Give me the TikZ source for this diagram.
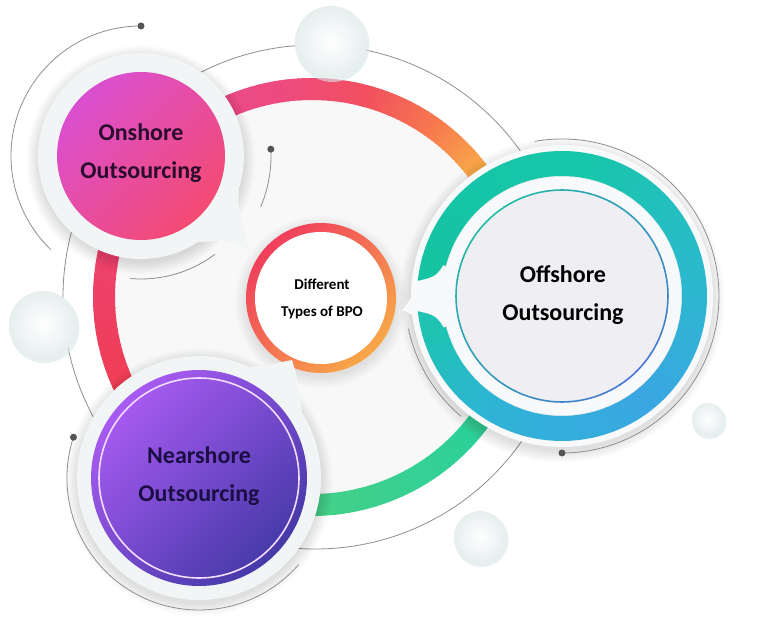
\documentclass[tikz,border=0pt]{standalone}
\usepackage{fontspec}
\setmainfont{Carlito}
\usetikzlibrary{calc}
\definecolor{grayline}{HTML}{8E8E8E}
\definecolor{dotc}{HTML}{555555}
\definecolor{innerfill}{HTML}{F8F8F8}
\definecolor{halo}{HTML}{F2F5F5}
\definecolor{ra}{HTML}{EF3D50}
\definecolor{rb}{HTML}{48D086}
\definecolor{rc}{HTML}{2BD09A}
\definecolor{rd}{HTML}{F9B048}
\definecolor{re}{HTML}{F6784E}
\definecolor{rf}{HTML}{F2505F}
\definecolor{rg}{HTML}{EC4A80}
\definecolor{rh}{HTML}{E94A8C}
\definecolor{ri}{HTML}{EE4270}
\definecolor{cRed}{HTML}{F03E5C}
\definecolor{cOrange}{HTML}{F8A848}
\definecolor{onA}{HTML}{DA4FD0}
\definecolor{onB}{HTML}{F44B72}
\definecolor{onText}{HTML}{2A0D2E}
\definecolor{neA}{HTML}{A85BF2}
\definecolor{neB}{HTML}{4539A8}
\definecolor{neText}{HTML}{1B0E45}
\definecolor{neLine}{HTML}{F3DDFF}
\definecolor{oa}{HTML}{1EC3B4}
\definecolor{ob}{HTML}{2FB3D6}
\definecolor{oc}{HTML}{3AA6E2}
\definecolor{od}{HTML}{2BBACD}
\definecolor{oe}{HTML}{17C6AA}
\definecolor{of}{HTML}{16C4A4}
\definecolor{tA}{HTML}{1FC1A0}
\definecolor{tB}{HTML}{4A74D6}
\definecolor{offIn}{HTML}{EFEFF3}
\definecolor{offHalo}{HTML}{F7F9FA}
\definecolor{bubEdge}{HTML}{E6EEEE}
\definecolor{bubShadow}{HTML}{D6E6E6}
\newcommand\gradarc[7]{%
  \foreach \i in {0,...,14}{%
    \pgfmathsetmacro\sa{#4+(#5-#4)*\i/15}%
    \pgfmathsetmacro\ea{#4+(#5-#4)*(\i+1)/15+0.4}%
    \pgfmathtruncatemacro\pp{100-100*(\i+0.5)/15}%
    \draw[line width=#3, color=#6!\pp!#7] (#1) ++(\sa:#2) arc[start angle=\sa, end angle=\ea, radius=#2];
  }}
\newcommand\softshadow[3]{%
  \foreach \k in {0,...,7}{\fill[black,opacity=#3] ([yshift=-4pt]#1) circle[radius=#2+\k*1.6];}}
\tikzset{
  grayarc/.style={draw=grayline, line width=0.8pt},
  bigtxt/.style={align=center, font=\fontsize{24}{38}\selectfont\bfseries, inner sep=0pt},
  smalltxt/.style={align=center, font=\fontsize{15}{27}\selectfont\bfseries, inner sep=0pt, text=black},
}
\begin{document}
\begin{tikzpicture}[x=1pt,y=1pt]
\useasboundingbox (0,0) rectangle (768,632);
\fill[white] (0,0) rectangle (768,632);
\coordinate (R) at (312,335);
\coordinate (G) at (315,335);
\coordinate (M) at (321,334);
\coordinate (ON) at (141,476);
\coordinate (NE) at (199,154);
\coordinate (OF) at (562,336);
% big thin circle
\draw[grayarc] (G) circle[radius=252];
% inner fill + gradient ring
\fill[innerfill] (R) circle[radius=200];
\gradarc{R}{208}{22}{-150}{-95}{ra}{rb}
\gradarc{R}{208}{22}{-95}{-40}{rb}{rc}
\gradarc{R}{208}{22}{-40}{35}{rc}{rd}
\gradarc{R}{208}{22}{35}{55}{rd}{re}
\gradarc{R}{208}{22}{55}{75}{re}{rf}
\gradarc{R}{208}{22}{75}{100}{rf}{rg}
\gradarc{R}{208}{22}{100}{130}{rg}{rh}
\gradarc{R}{208}{22}{130}{165}{rh}{ri}
\gradarc{R}{208}{22}{165}{210}{ri}{ra}
% center circle
\softshadow{M}{75}{0.012}
\shade[top color=cRed, bottom color=cOrange, shading angle=45] (M) circle[radius=75];
\fill[white] (M) circle[radius=66];
\node[smalltxt] (centerT) at (322,333) {Different\\Types of BPO};
% onshore
\softshadow{ON}{103}{0.014}
\fill[halo] (ON) circle[radius=103];
\fill[halo] ($(ON)+(-12:100)$) .. controls (238,420) .. (250,382) .. controls (230,392) .. ($(ON)+(-60:100)$) -- (ON) -- cycle;
\shade[top color=onA, bottom color=onB, shading angle=45] (ON) circle[radius=84];
\node[bigtxt, text=onText] (onT) at (141,479) {Onshore\\Outsourcing};
% nearshore
\softshadow{NE}{122}{0.014}
\fill[halo] (NE) circle[radius=122];
\fill[halo] ($(NE)+(28:118)$) .. controls (298,252) .. (292,272) .. controls (272,268) .. ($(NE)+(68:118)$) -- (NE) -- cycle;
\shade[top color=neA, bottom color=neB, shading angle=45] (NE) circle[radius=108];
\draw[neLine, line width=1.6pt] (NE) circle[radius=100];
\node[bigtxt, text=neText] (neT) at (199,156) {Nearshore\\Outsourcing};
% offshore
\softshadow{OF}{151}{0.014}
\fill[offHalo] (OF) circle[radius=151];
\fill[offIn] (OF) circle[radius=121];
\fill[offHalo] ($(OF)+(166:118)$) .. controls (418,352) and (410,330) .. (402,322) .. controls (412,318) and (420,312) .. ($(OF)+(194:118)$) -- (OF) -- cycle;
\fill[offHalo] (OF) circle[radius=119];
\fill[offIn] (OF) circle[radius=106];
\gradarc{OF}{132.5}{25}{195}{240}{oa}{ob}
\gradarc{OF}{132.5}{25}{240}{310}{ob}{oc}
\gradarc{OF}{132.5}{25}{310}{370}{oc}{od}
\gradarc{OF}{132.5}{25}{370}{440}{od}{oe}
\gradarc{OF}{132.5}{25}{440}{525}{oe}{of}
\fill[of] ($(OF)+(164:145)$) arc[start angle=164, end angle=174, radius=145] .. controls ($(OF)+(171:126)$) .. ($(OF)+(158:120)$) -- cycle;
\fill[oa] ($(OF)+(196:145)$) arc[start angle=196, end angle=186, radius=145] .. controls ($(OF)+(189:126)$) .. ($(OF)+(202:120)$) -- cycle;
\gradarc{OF}{106}{1.6}{135}{315}{tA}{tB}
\gradarc{OF}{106}{1.6}{-45}{135}{tB}{tA}
\node[bigtxt, text=black] (ofT) at (563,337) {Offshore\\Outsourcing};
% bubbles
\foreach \nm/\bx/\by/\br in {b1/331/590/36, b2/43/307/34, b3/708/213/16, b4/480/95/26}{
  \fill[bubShadow, opacity=0.6] (\bx+1.5,\by-3) circle[radius=\br+1];
  \shade[inner color=white, outer color=bubEdge] (\bx,\by) circle[radius=\br];
  \coordinate (\nm) at (\bx,\by);
}
% gray arcs with dots
\draw[grayarc] (ON) ++(90:130) arc[start angle=90, end angle=226, radius=130];
\fill[dotc] (ON) ++(90:130) circle[radius=3.5];
\draw[grayarc] (ON) ++(3:130) arc[start angle=3, end angle=-23, radius=130];
\fill[dotc] (ON) ++(3:130) circle[radius=3.5];
\draw[grayarc] (ON) ++(-53:123) arc[start angle=-53, end angle=-95, radius=123];
\draw[grayarc] (OF) ++(100:157) arc[start angle=100, end angle=-90, radius=157];
\fill[dotc] (OF) ++(-90:157) circle[radius=3.5];
\draw[grayarc] (OF) ++(192:157) arc[start angle=192, end angle=230, radius=157];
\draw[grayarc] (NE) ++(162:132) arc[start angle=162, end angle=319, radius=132];
\fill[dotc] (NE) ++(162:132) circle[radius=3.5];
\end{tikzpicture}
\end{document}
